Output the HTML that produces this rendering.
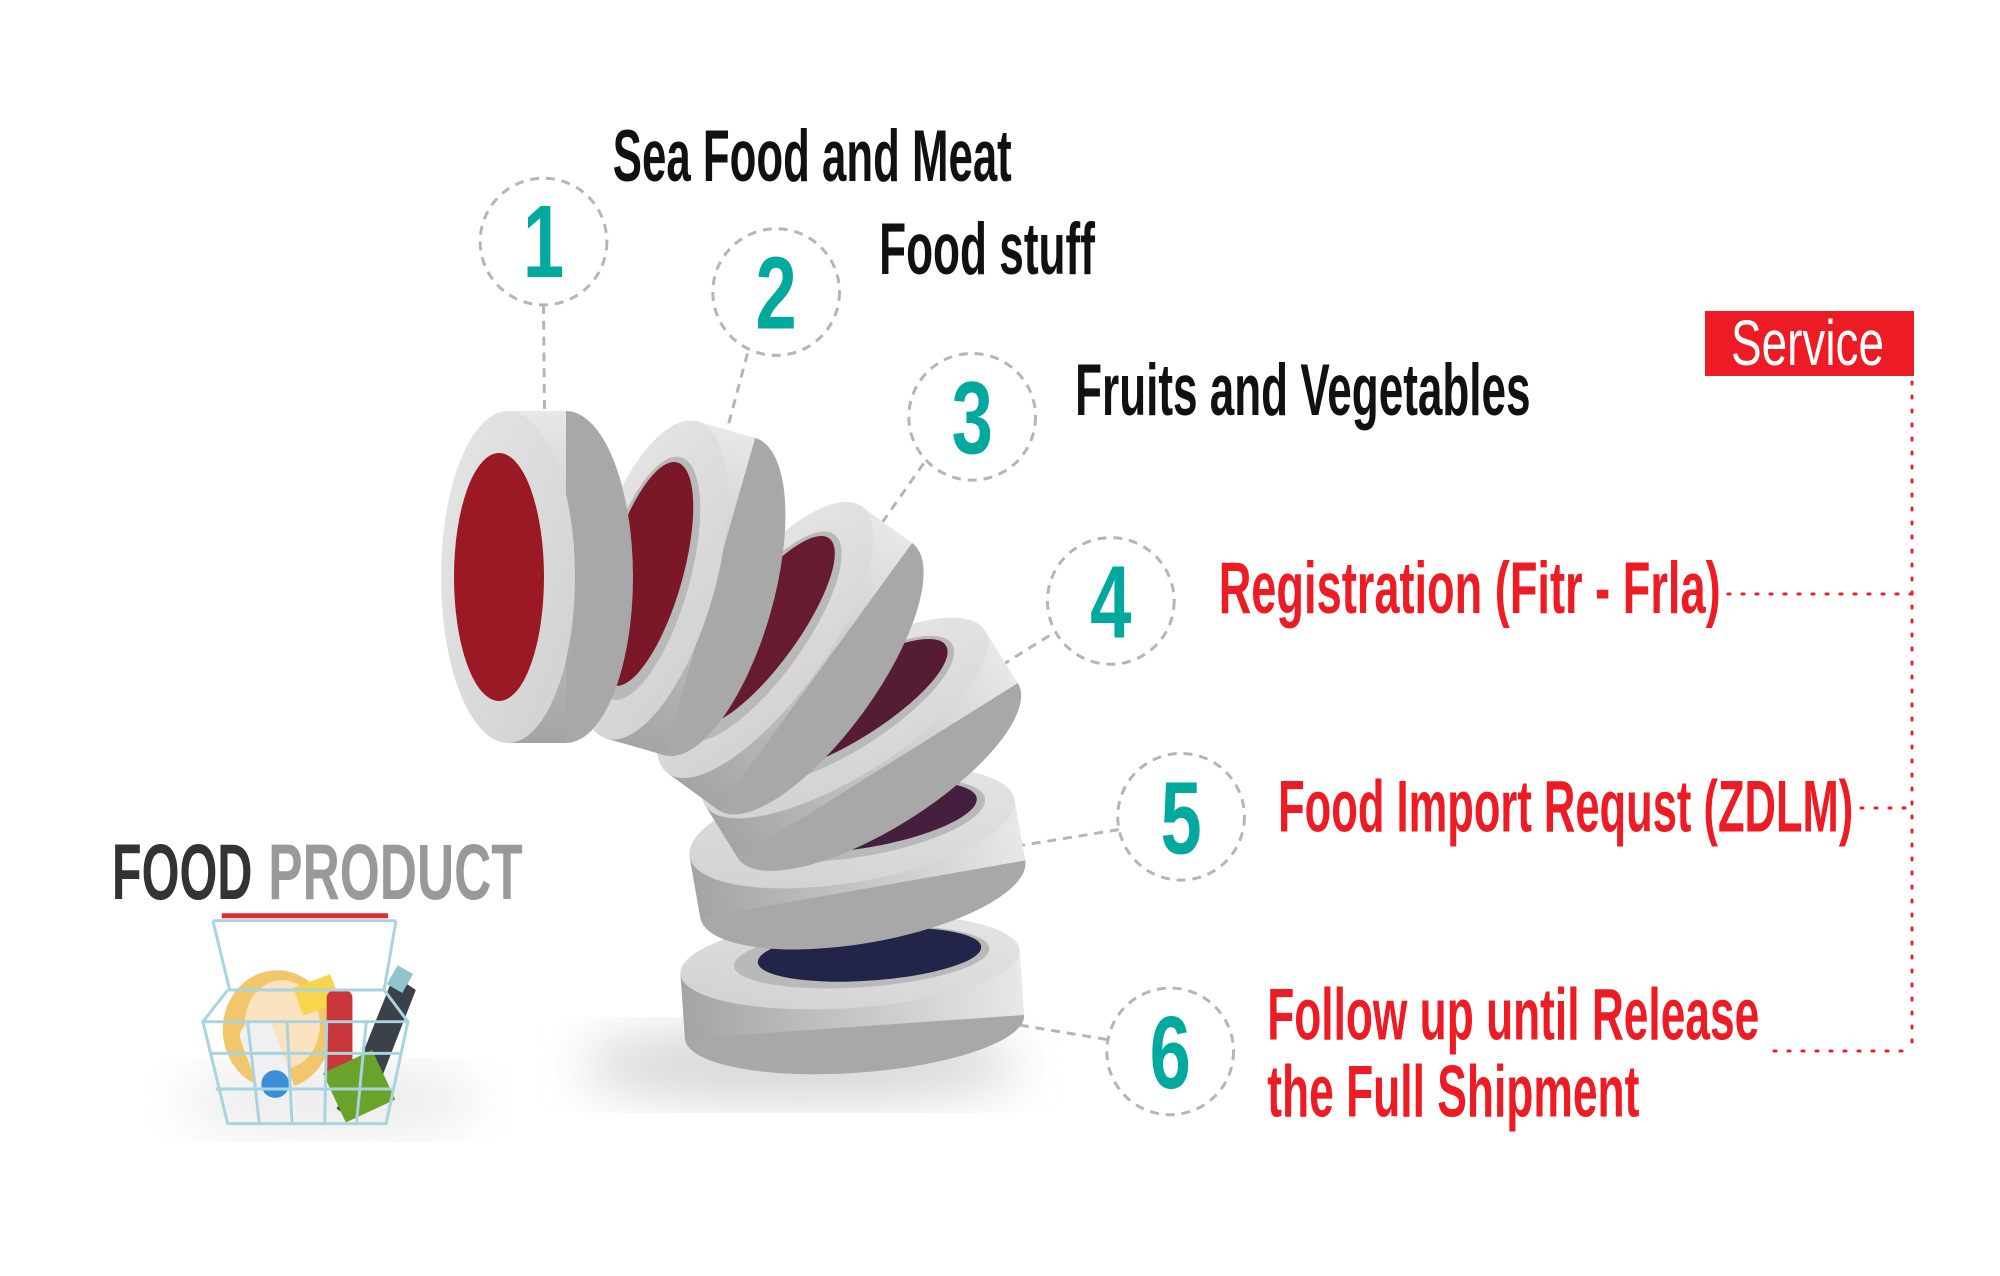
<!DOCTYPE html>
<html><head><meta charset="utf-8"><style>
html,body{margin:0;padding:0;background:#fff;}
svg{display:block;}
text{font-family:"Liberation Sans Narrow","Liberation Sans",sans-serif;}
</style></head><body>
<svg width="2000" height="1276" viewBox="0 0 2000 1276" xmlns="http://www.w3.org/2000/svg">
<defs>
<linearGradient id="body" x1="0" y1="0" x2="0" y2="1">
<stop offset="0" stop-color="#e8e8e8"/><stop offset="1" stop-color="#a4a4a4"/>
</linearGradient>
<linearGradient id="face" x1="0" y1="0" x2="1" y2="1">
<stop offset="0" stop-color="#e6e6e6"/><stop offset="1" stop-color="#d0d0d0"/>
</linearGradient>
<filter id="blur"><feGaussianBlur stdDeviation="25"/></filter>
</defs>

<ellipse cx="800" cy="1065" rx="220" ry="40" fill="#cfcfcf" filter="url(#blur)" opacity="0.8"/>
<ellipse cx="330" cy="1100" rx="150" ry="35" fill="#e6e6e6" filter="url(#blur)" opacity="0.8"/>

<g transform="scale(0.99)">
<g stroke="#b5b5b5" stroke-width="3" stroke-dasharray="9,7" fill="none">
<line x1="549" y1="308" x2="550" y2="416"/>
<line x1="755" y1="357" x2="728" y2="458"/>
<line x1="933" y1="468" x2="872" y2="555"/>
<line x1="1060" y1="642" x2="978" y2="693"/>
<line x1="1130" y1="838" x2="1025" y2="855"/>
<line x1="1118" y1="1050" x2="1015" y2="1033"/>
<circle cx="549" cy="244" r="64"/>
<circle cx="784" cy="295" r="64"/>
<circle cx="982" cy="421" r="64"/>
<circle cx="1122" cy="607" r="64"/>
<circle cx="1193" cy="825" r="64"/>
<circle cx="1182" cy="1062" r="64"/>
</g>
</g>

<g transform="translate(850,962) rotate(86)">
<ellipse cx="65" cy="0" rx="46" ry="170" fill="#a8a8a8"/>
<rect x="0" y="-170" width="65" height="340" fill="url(#body)"/>
<ellipse cx="0" cy="0" rx="46" ry="170" fill="url(#face)"/>
<ellipse cx="-4" cy="-12" rx="30" ry="128" fill="#b9b9b9"/>
<ellipse cx="-6" cy="-20" rx="26" ry="112" fill="#222449"/>
</g>
<g transform="translate(852,828) rotate(80)">
<ellipse cx="62" cy="0" rx="54" ry="165" fill="#a8a8a8"/>
<rect x="0" y="-165" width="62" height="330" fill="url(#body)"/>
<ellipse cx="0" cy="0" rx="54" ry="165" fill="url(#face)"/>
<ellipse cx="-6" cy="-10" rx="36" ry="126" fill="#b9b9b9"/>
<ellipse cx="-8" cy="-16" rx="30" ry="112" fill="#45203e"/>
</g>
<g transform="translate(845,718) rotate(58)">
<ellipse cx="62" cy="0" rx="58" ry="165" fill="#a8a8a8"/>
<rect x="0" y="-165" width="62" height="330" fill="url(#body)"/>
<ellipse cx="0" cy="0" rx="58" ry="165" fill="url(#face)"/>
<ellipse cx="-6" cy="-4" rx="40" ry="126" fill="#b9b9b9"/>
<ellipse cx="-8" cy="-10" rx="34" ry="114" fill="#561c35"/>
</g>
<g transform="translate(765,640) rotate(36)">
<ellipse cx="62" cy="0" rx="60" ry="165" fill="#a8a8a8"/>
<rect x="0" y="-165" width="62" height="330" fill="url(#body)"/>
<ellipse cx="0" cy="0" rx="60" ry="165" fill="url(#face)"/>
<ellipse cx="-6" cy="0" rx="42" ry="126" fill="#b9b9b9"/>
<ellipse cx="-8" cy="-6" rx="35" ry="114" fill="#661b2e"/>
</g>
<g transform="translate(652,580) rotate(16)">
<ellipse cx="60" cy="0" rx="63" ry="165" fill="#a8a8a8"/>
<rect x="0" y="-165" width="60" height="330" fill="url(#body)"/>
<ellipse cx="0" cy="0" rx="63" ry="165" fill="url(#face)"/>
<ellipse cx="-6" cy="0" rx="43" ry="126" fill="#b9b9b9"/>
<ellipse cx="-8" cy="-4" rx="37" ry="116" fill="#7a1828"/>
</g>
<g transform="translate(508,577)">
<ellipse cx="58" cy="0" rx="67" ry="166" fill="#a8a8a8"/>
<rect x="0" y="-166" width="58" height="332" fill="url(#body)"/>
<ellipse cx="0" cy="0" rx="67" ry="166" fill="url(#face)"/>
<ellipse cx="-9" cy="0" rx="45" ry="124" fill="#9b1925"/>
</g>

<g transform="scale(0.99)">
<g fill="#00a99d" font-weight="bold" font-size="104" text-anchor="middle">
<text transform="translate(549,280) scale(0.72,1)">1</text>
<text transform="translate(784,332) scale(0.72,1)">2</text>
<text transform="translate(982,458) scale(0.72,1)">3</text>
<text transform="translate(1122,644) scale(0.72,1)">4</text>
<text transform="translate(1193,862) scale(0.72,1)">5</text>
<text transform="translate(1182,1099) scale(0.72,1)">6</text>
</g>

<g font-size="74" fill="#111" font-weight="bold">
<text x="619" y="183" textLength="403" lengthAdjust="spacingAndGlyphs">Sea Food and Meat</text>
<text x="888" y="277" textLength="218" lengthAdjust="spacingAndGlyphs">Food stuff</text>
<text x="1086" y="419" textLength="460" lengthAdjust="spacingAndGlyphs">Fruits and Vegetables</text>
</g>
<g font-size="74" fill="#ed1c24" font-weight="bold">
<text x="1231" y="619" textLength="507" lengthAdjust="spacingAndGlyphs">Registration (Fitr - Frla)</text>
<text x="1291" y="840" textLength="581" lengthAdjust="spacingAndGlyphs">Food Import Requst (ZDLM)</text>
<text x="1280" y="1050" textLength="497" lengthAdjust="spacingAndGlyphs">Follow up until Release</text>
<text x="1280" y="1128" textLength="376" lengthAdjust="spacingAndGlyphs">the Full Shipment</text>
</g>

<text x="113" y="908" font-size="80" font-weight="bold" fill="#333" textLength="142" lengthAdjust="spacingAndGlyphs">FOOD</text>
<text x="271" y="908" font-size="80" font-weight="bold" fill="#999" textLength="257" lengthAdjust="spacingAndGlyphs">PRODUCT</text>

<g>
<line x1="224" y1="925" x2="392" y2="925" stroke="#e32a2a" stroke-width="5"/>
<ellipse cx="280" cy="1040" rx="55" ry="60" fill="#f2c66a"/>
<ellipse cx="285" cy="1035" rx="38" ry="45" fill="#fbe3c2"/>
<rect x="300" y="990" width="40" height="30" fill="#f8d54a" transform="rotate(-20 320 1005)"/>
<rect x="330" y="1000" width="26" height="90" rx="8" fill="#c9373a"/>
<path d="M398 985 L420 1000 L385 1090 L355 1130 L340 1120 L360 1080 Z" fill="#3a4148"/>
<rect x="395" y="978" width="18" height="22" fill="#8fc4cc" transform="rotate(30 404 989)"/>
<rect x="335" y="1070" width="55" height="55" fill="#6aa22a" transform="rotate(-25 362 1097)"/>
<rect x="255" y="1030" width="35" height="100" rx="12" fill="#f0f0f0" transform="rotate(-20 272 1080)"/>
<circle cx="278" cy="1095" r="14" fill="#3b8fd6"/>
<g stroke="#a9d3e0" stroke-width="3" fill="none">
<path d="M215 930 L232 1000 M400 930 L388 1000 M215 930 L400 930"/>
<path d="M205 1032 L412 1032 L390 1135 L230 1135 Z"/>
<path d="M230 1000 L388 1000 L412 1032 M230 1000 L205 1032"/>
<line x1="212" y1="1064" x2="405" y2="1064"/>
<line x1="218" y1="1100" x2="398" y2="1100"/>
<line x1="250" y1="1032" x2="262" y2="1135"/>
<line x1="290" y1="1032" x2="295" y2="1135"/>
<line x1="330" y1="1032" x2="328" y2="1135"/>
<line x1="370" y1="1032" x2="360" y2="1135"/>
</g>
</g>
</g>

<rect x="1705" y="311" width="209" height="65" fill="#ed1c24"/>
<text x="1731" y="365" font-size="64" fill="#fff" textLength="153" lengthAdjust="spacingAndGlyphs">Service</text>
<g stroke="#ed1c24" stroke-width="3" stroke-dasharray="2,12" stroke-linecap="round" fill="none">
<line x1="1912" y1="382" x2="1912" y2="1051"/>
<line x1="1728" y1="594" x2="1912" y2="594"/>
<line x1="1861" y1="808" x2="1912" y2="808"/>
<line x1="1774" y1="1051" x2="1912" y2="1051"/>
</g>
</svg>
</body></html>
